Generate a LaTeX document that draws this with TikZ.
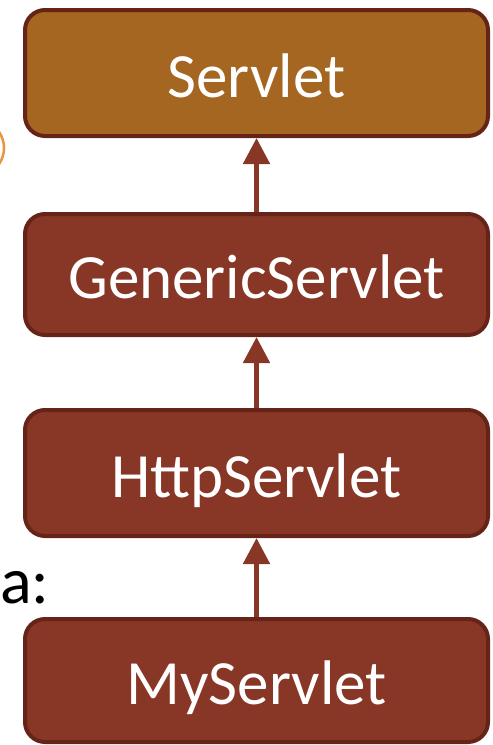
\documentclass[tikz,border=0pt]{standalone}
\usepackage{fontspec}
\setmainfont{Carlito}
\usetikzlibrary{arrows.meta}
\definecolor{topfill}{RGB}{165,102,33}
\definecolor{boxfill}{RGB}{136,55,38}
\definecolor{boxline}{RGB}{102,36,24}
\definecolor{ringcol}{RGB}{230,150,60}
\tikzset{
  classbox/.style={draw=boxline, line width=4pt, fill=boxfill, rounded corners=20pt,
    minimum width=463pt, inner sep=0pt, text=white,
    font=\fontsize{63}{75}\selectfont, text height=48pt, text depth=0pt},
  inherit/.style={draw=boxfill, line width=5pt,
    -{Triangle[width=26pt,length=26pt]}, fill=boxfill}
}
\begin{document}
\begin{tikzpicture}[x=1pt,y=-1pt]
  \useasboundingbox (0,0) rectangle (493,745);
  % class hierarchy
  \node[classbox, fill=topfill, minimum height=126pt] (servlet) at (256.5,73) {Servlet};
  \node[classbox, minimum height=121pt] (generic) at (256.5,274.5) {GenericServlet};
  \node[classbox, minimum height=126pt] (http) at (256.5,473) {HttpServlet};
  \node[classbox, minimum height=123pt] (mine) at (256.5,680.5) {MyServlet};
  % inheritance arrows
  \draw[inherit] (generic.north) -- (servlet.south);
  \draw[inherit] (http.north) -- (generic.south);
  \draw[inherit] (mine.north) -- (http.south);
  % side text and ring
  \node[anchor=base west, inner sep=0pt, font=\fontsize{66}{78}\selectfont] (label) at (0,603) {a:};
  \draw[ringcol, line width=2.5pt] (-25,148) circle[radius=29];
\end{tikzpicture}
\end{document}
